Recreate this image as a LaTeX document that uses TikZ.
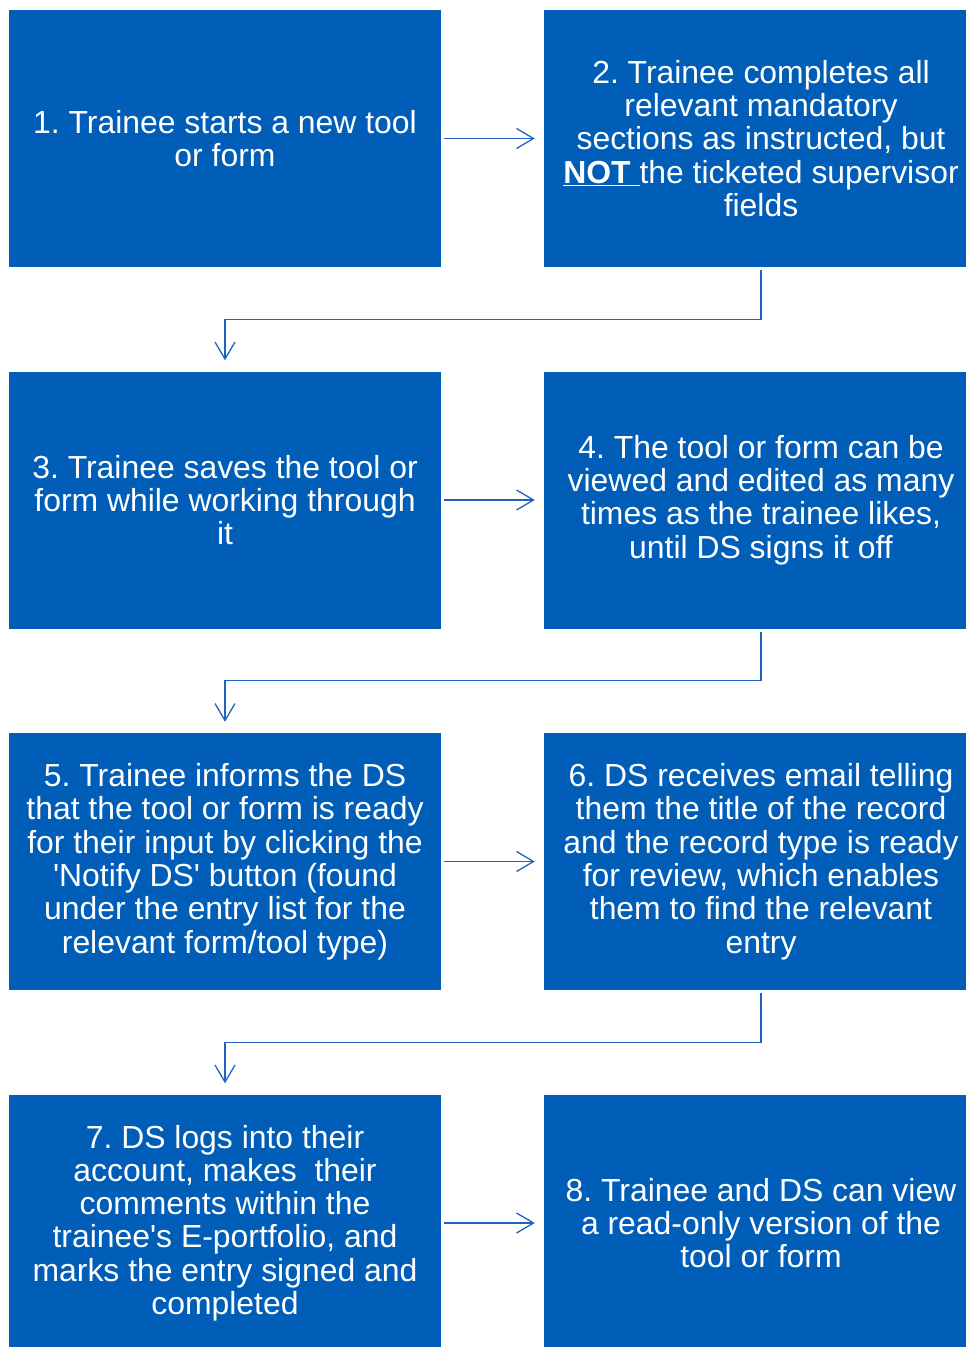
\documentclass[tikz,border=0pt]{standalone}
\usepackage{fontspec}
\setmainfont{Liberation Sans}
\usetikzlibrary{arrows.meta}
\frenchspacing

\definecolor{boxblue}{HTML}{005EB8}
\definecolor{lineblue}{HTML}{1F63BE}

\tikzset{
	stepbox/.style = {fill = boxblue, text = white, align = center, inner sep = 0pt,
		minimum height = 257pt, font = \fontsize{31.9}{33.3}\selectfont},
	leftbox/.style = {stepbox, minimum width = 432pt},
	rightbox/.style = {stepbox, minimum width = 434pt},
	flow/.style = {draw = lineblue, line width = 1.3pt,
		-{Straight Barb[length = 17pt, width = 20pt, line width = 1.3pt]}}
}

\begin{document}
\begin{tikzpicture}[x = 1pt, y = 1pt]

	\useasboundingbox (0, 0) rectangle (966, -1347);

	% Left column
	
	\node [leftbox] (s1) at (225, -138.5) {1. Trainee starts a new tool\\or form};
	\node [leftbox] (s3) at (225, -500) {3. Trainee saves the tool or\\form while working through\\it};
	\node [leftbox] (s5) at (225, -861.5) {5. Trainee informs the DS\\that the tool or form is ready\\for their input by clicking the\\\textquotesingle Notify DS\textquotesingle\ button (found\\under the entry list for the\\relevant form/tool type)};
	\node [leftbox] (s7) at (225, -1223) {7. DS logs into their\\account, makes\ \ their\\comments within the\\trainee\textquotesingle s E-portfolio, and\\marks the entry signed and\\completed};
	
	% Right column
	
	\node [rightbox] (s2) at (761, -138.5) {2. Trainee completes all\\relevant mandatory\\sections as instructed, but\\\underline{\textbf{NOT}\ }the ticketed supervisor\\fields};
	\node [rightbox] (s4) at (761, -500) {4. The tool or form can be\\viewed and edited as many\\times as the trainee likes,\\until DS signs it off};
	\node [rightbox] (s6) at (761, -861.5) {6. DS receives email telling\\them the title of the record\\and the record type is ready\\for review, which enables\\them to find the relevant\\entry};
	\node [rightbox] (s8) at (761, -1223) {8. Trainee and DS can view\\a read-only version of the\\tool or form};
	
	% Arrows across
	
	\foreach \a/\b in {s1/s2, s3/s4, s5/s6, s7/s8}
		\draw [flow, shorten <= 3pt, shorten >= 9pt] (\a.east) -- (\b.west);
		
	% Arrows down to the next row
	
	\foreach \a/\b in {s2/s3, s4/s5, s6/s7}
		\draw [flow, shorten <= 3pt, shorten >= 11pt] (\a.south) -- ++(0, -52) -| (\b.north);

\end{tikzpicture}
\end{document}
